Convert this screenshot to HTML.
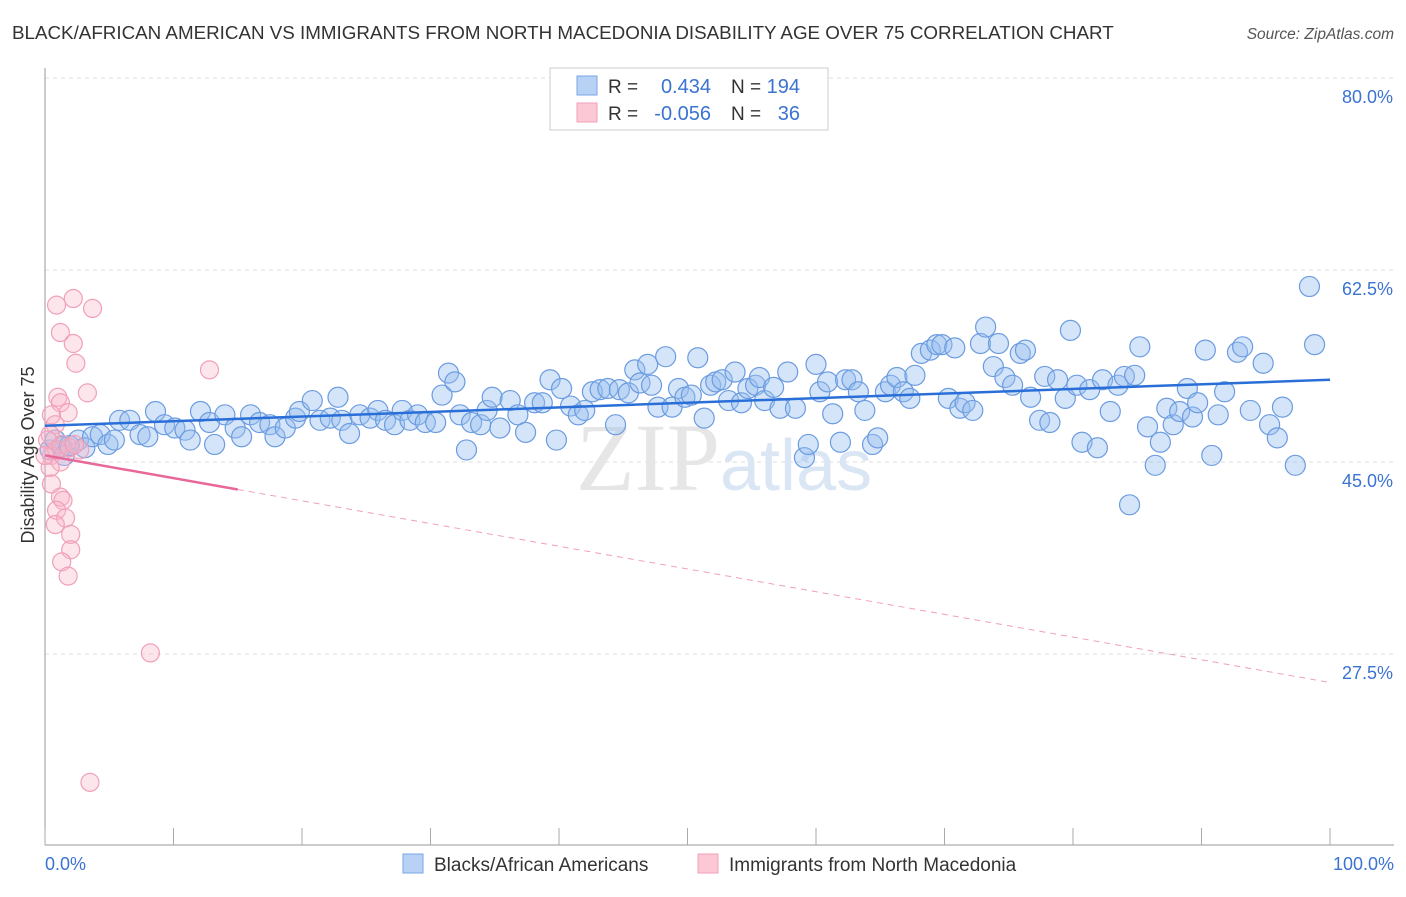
<!DOCTYPE html>
<html><head><meta charset="utf-8"><style>
body{margin:0;background:#fff;font-family:"Liberation Sans",sans-serif}
</style></head><body>
<svg id="c" width="1406" height="892" xmlns="http://www.w3.org/2000/svg" style="font-family:'Liberation Sans',sans-serif">
<text x="12" y="39" font-size="18.8" fill="#333">BLACK/AFRICAN AMERICAN VS IMMIGRANTS FROM NORTH MACEDONIA DISABILITY AGE OVER 75 CORRELATION CHART</text>
<text x="1394" y="39" font-size="15.5" fill="#555" font-style="italic" text-anchor="end">Source: ZipAtlas.com</text>
<g id="grid"></g>
<text x="720" y="490" font-size="96" fill="#e6e6e6" text-anchor="end" font-family="Liberation Serif">ZIP</text>
<text x="720" y="490" font-size="72" fill="#dbe6f5">atlas</text>
<line x1="45" y1="68" x2="45" y2="845" stroke="#999"/>
<line x1="45" y1="845" x2="1394" y2="845" stroke="#999"/>
<g id="ticks"></g>
<g id="pts"></g>
<g id="lines"></g>
<text transform="translate(34,455) rotate(-90)" font-size="18" fill="#333" text-anchor="middle">Disability Age Over 75</text>
<text x="45" y="870" font-size="18" fill="#3b73d1">0.0%</text>
<text x="1394" y="870" font-size="18" fill="#3b73d1" text-anchor="end">100.0%</text>
<g>
<rect x="550" y="68" width="278" height="62" fill="#fff" stroke="#ccc"/>
<rect x="577" y="76" width="20" height="19" fill="#b8d2f5" stroke="#7aa6e6"/>
<rect x="577" y="103" width="20" height="19" fill="#fcc8d6" stroke="#f0a0b8"/>
<text x="608" y="93" font-size="19" fill="#333">R =</text><text x="711" y="93" font-size="20" fill="#3b73d1" text-anchor="end">0.434</text>
<text x="731" y="93" font-size="19" fill="#333">N =</text><text x="800" y="93" font-size="20" fill="#3b73d1" text-anchor="end">194</text>
<text x="608" y="120" font-size="19" fill="#333">R =</text><text x="711" y="120" font-size="20" fill="#3b73d1" text-anchor="end">-0.056</text>
<text x="731" y="120" font-size="19" fill="#333">N =</text><text x="800" y="120" font-size="20" fill="#3b73d1" text-anchor="end">36</text>
</g>
<g>
<rect x="403" y="854" width="20" height="19" fill="#b8d2f5" stroke="#7aa6e6"/>
<text x="434" y="871" font-size="19" fill="#333">Blacks/African Americans</text>
<rect x="698" y="854" width="20" height="19" fill="#fcc8d6" stroke="#f0a0b8"/>
<text x="729" y="871" font-size="19" fill="#333">Immigrants from North Macedonia</text>
</g>
</svg>
<script>
const yTicks=[80,62.5,45,27.5];
const yTickLabels=["80.0%","62.5%","45.0%","27.5%"];
const xTicks=[0,10,20,30,40,50,60,70,80,90,100];
const blueX=[0.4,0.8,1.3,1.5,1.9,2.6,3.1,3.7,4.3,4.9,5.4,5.8,6.6,7.4,8.0,8.6,9.3,10.1,10.9,11.3,12.1,12.8,13.2,14.0,14.8,15.3,16.0,16.7,17.5,17.9,18.7,19.5,19.8,20.8,21.4,22.2,22.8,23.1,23.7,24.5,25.3,25.9,26.5,27.2,27.8,28.4,29.0,29.6,30.4,30.9,31.4,31.9,32.3,32.8,33.2,33.9,34.4,34.8,35.4,36.2,36.8,37.4,38.1,38.7,39.3,39.8,40.2,40.9,41.5,42.0,42.6,43.2,43.8,44.4,44.7,45.4,45.9,46.3,46.9,47.2,47.7,48.3,48.8,49.3,49.8,50.3,50.8,51.3,51.8,52.2,52.7,53.2,53.7,54.2,54.7,55.3,55.6,56.0,56.7,57.2,57.8,58.4,59.1,59.4,60.0,60.3,60.9,61.3,61.9,62.3,62.8,63.3,63.8,64.4,64.8,65.4,65.8,66.3,66.8,67.3,67.7,68.2,68.9,69.4,69.8,70.3,70.8,71.2,71.6,72.2,72.8,73.2,73.8,74.2,74.7,75.3,75.9,76.3,76.7,77.4,77.8,78.2,78.8,79.4,79.8,80.3,80.7,81.3,81.9,82.3,82.9,83.5,84.0,84.4,84.8,85.2,85.8,86.4,86.8,87.3,87.8,88.3,88.9,89.3,89.7,90.3,90.8,91.3,91.8,92.8,93.2,93.8,94.8,95.3,95.9,96.3,97.3,98.4,98.8];
const blueY=[46.1,47.0,46.4,45.6,46.5,47.0,46.3,47.3,47.5,46.6,47.0,48.8,48.8,47.5,47.3,49.6,48.4,48.1,47.9,47.0,49.6,48.6,46.6,49.3,48.1,47.3,49.3,48.6,48.4,47.3,48.1,49.0,49.6,50.6,48.8,49.0,50.9,48.8,47.6,49.3,49.0,49.7,48.8,48.4,49.7,48.8,49.3,48.6,48.6,51.1,53.1,52.3,49.3,46.1,48.6,48.4,49.7,50.9,48.1,50.6,49.3,47.7,50.4,50.4,52.5,47.0,51.7,50.1,49.3,49.7,51.4,51.6,51.7,48.4,51.6,51.3,53.4,52.2,53.9,52.0,50.0,54.6,50.0,51.7,50.9,51.1,54.5,49.0,52.0,52.3,52.5,50.6,53.2,50.4,51.7,52.0,52.7,50.6,51.8,49.9,53.2,49.9,45.4,46.6,53.9,51.4,52.3,49.4,46.8,52.5,52.5,51.4,49.7,46.6,47.2,51.4,52.0,52.7,51.4,50.8,52.9,54.9,55.2,55.7,55.7,50.8,55.4,49.9,50.4,49.7,55.8,57.3,53.7,55.8,52.7,52.0,54.9,55.2,50.9,48.8,52.8,48.6,52.5,50.8,57.0,52.0,46.8,51.6,46.3,52.5,49.6,52.0,52.8,41.1,52.9,55.5,48.2,44.7,46.8,49.9,48.4,49.6,51.7,49.1,50.4,55.2,45.6,49.3,51.4,55.0,55.5,49.7,54.0,48.4,47.2,50.0,44.7,61.0,55.7];
const pinkX=[0.9,2.2,3.7,1.2,2.2,2.4,3.3,12.8,1.0,1.2,1.8,0.5,0.8,0.4,1.3,2.7,0.5,1.2,0.4,0.5,1.2,1.4,0.9,1.6,0.8,2.0,2.0,1.3,1.8,8.2,3.5,0.2,0.9,1.9,2.3,0.0];
const pinkY=[59.3,59.9,59.0,56.8,55.8,54.0,51.3,53.4,50.9,50.4,49.5,49.3,48.4,47.5,46.6,46.1,45.6,45.0,44.5,43.0,41.8,41.5,40.6,39.9,39.3,38.4,37.0,35.9,34.6,27.6,15.8,47.0,46.1,46.3,46.6,45.6];
const blueTrend=[48.3,52.5];
const pinkTrend=[45.6,24.9];
const pinkSolidEnd=15;
const NS="http://www.w3.org/2000/svg";
const X=v=>45+v*12.85;
const Y=v=>78+(80-v)*192/17.5;
function mk(tag,attrs,parent){const e=document.createElementNS(NS,tag);for(const k in attrs)e.setAttribute(k,attrs[k]);parent.appendChild(e);return e;}
const grid=document.getElementById('grid');
yTicks.forEach((t,i)=>{
  const l=mk('line',{x1:45,x2:1394,y1:Y(t),y2:Y(t),stroke:'#ddd','stroke-dasharray':'4,4'},grid);
  
  
  const tx=mk('text',{x:1393,y:Y(t)+25,'font-size':18,fill:'#3b73d1','text-anchor':'end'},grid);
  tx.textContent=yTickLabels[i];
  
  
});
const ticks=document.getElementById('ticks');
xTicks.forEach(t=>{
  const l=mk('line',{x1:X(t),x2:X(t),y1:828,y2:845,stroke:'#aaa'},ticks);
  
  
});
const pts=document.getElementById('pts');
blueX.forEach((x,i)=>{
  const c=mk('circle',{cx:X(x),cy:Y(blueY[i]),r:10,fill:'rgba(150,190,240,0.4)',stroke:'#6b9be0','stroke-width':1.2},pts);
  
  
});
pinkX.forEach((x,i)=>{
  const c=mk('circle',{cx:X(x),cy:Y(pinkY[i]),r:9,fill:'rgba(248,180,200,0.35)',stroke:'#f0a0b8','stroke-width':1.2},pts);
  
  
});
const lines=document.getElementById('lines');
const bl=mk('line',{x1:X(0),y1:Y(blueTrend[0]),x2:X(100),y2:Y(blueTrend[1]),stroke:'#2a6fd8','stroke-width':2.5},lines);


const pm=v=>pinkTrend[0]+(pinkTrend[1]-pinkTrend[0])*v/100;
const ps=mk('line',{x1:X(0),y1:Y(pm(0)),x2:X(pinkSolidEnd),y2:Y(pm(pinkSolidEnd)),stroke:'#e8689a','stroke-width':2.5},lines);


const pd=mk('line',{x1:X(pinkSolidEnd),y1:Y(pm(pinkSolidEnd)),x2:X(100),y2:Y(pm(100)),stroke:'#f0a0b8','stroke-width':1,'stroke-dasharray':'6,5'},lines);


</script>
</body></html>
